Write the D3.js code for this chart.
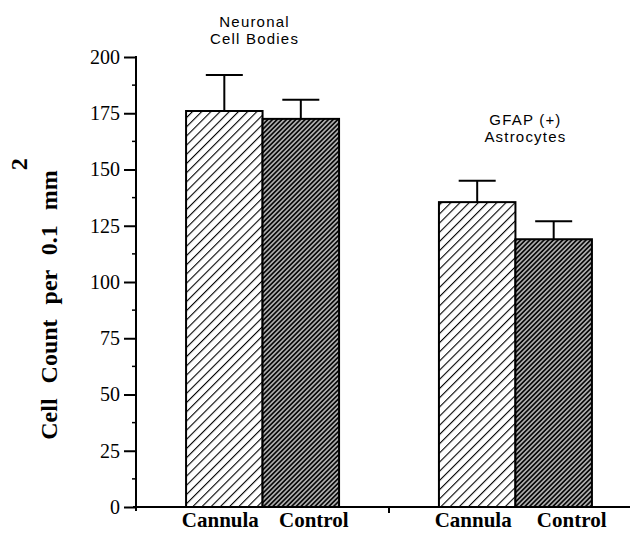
<!DOCTYPE html>
<html>
<head>
<meta charset="utf-8">
<script src="https://cdn.jsdelivr.net/npm/d3@7"></script>
<style>
  body { margin: 0; background: #fff; }
  svg { display: block; }
</style>
</head>
<body>
<div id="chart-area"></div>
<script>
// Datos
const groups = ["Neuronal Cell Bodies", "GFAP (+) Astrocytes"];
const groupLines = [["Neuronal", "Cell Bodies"], ["GFAP (+)", "Astrocytes"]];
const series = ["Cannula", "Control"];
const means = [[176, 172.5], [135.5, 119]];
const errors = [[16, 8.5], [9.5, 8]];
const yTicks = [0, 25, 50, 75, 100, 125, 150, 175, 200];

const W = 642, H = 535;

const svg = d3.select("#chart-area")
    .append("svg")
    .attr("width", W)
    .attr("height", H);

// Patrones de rayado
const defs = svg.append("defs");
const p1 = defs.append("pattern")
    .attr("id", "hatch-cannula")
    .attr("patternUnits", "userSpaceOnUse")
    .attr("width", 6.5).attr("height", 6.5)
    .attr("patternTransform", "rotate(45)");
p1.append("rect").attr("width", 6.5).attr("height", 6.5).attr("fill", "#fff");
p1.append("line").attr("x1", 0).attr("y1", 0).attr("x2", 0).attr("y2", 6.5)
    .attr("stroke", "#000").attr("stroke-width", 2.2);

const p2 = defs.append("pattern")
    .attr("id", "hatch-control")
    .attr("patternUnits", "userSpaceOnUse")
    .attr("width", 3.3).attr("height", 3.3)
    .attr("patternTransform", "rotate(45)");
p2.append("rect").attr("width", 3.3).attr("height", 3.3).attr("fill", "#0a0a0a");
p2.append("line").attr("x1", 1.65).attr("y1", 0).attr("x2", 1.65).attr("y2", 3.3)
    .attr("stroke", "#fff").attr("stroke-width", 1.1);

const fills = {Cannula: "url(#hatch-cannula)", Control: "url(#hatch-control)"};

// Escalas
const axisX = 136, axisEnd = 630;
const x0 = d3.scaleBand()
    .domain(groups)
    .range([axisX, 642])
    .paddingInner(0.395)
    .paddingOuter(0.198);

const x1 = d3.scaleBand()
    .domain(series)
    .range([0, x0.bandwidth()]);

const y = d3.scaleLinear()
    .domain([0, 200])
    .range([507, 57]);

// Barras
const rows = [];
groups.forEach((g, i) => series.forEach((s, j) => {
    rows.push({group: g, gi: i, series: s, value: means[i][j], err: errors[i][j]});
}));

const bars = svg.append("g");
bars.selectAll("rect")
    .data(rows)
    .enter()
    .append("rect")
    .attr("x", d => x0(d.group) + x1(d.series))
    .attr("y", d => y(d.value))
    .attr("width", x1.bandwidth())
    .attr("height", d => y(0) - y(d.value))
    .attr("fill", d => fills[d.series])
    .attr("stroke", "#000")
    .attr("stroke-width", 2);

// Barras de error
const capW = 37;
const eb = svg.append("g").attr("stroke", "#000").attr("stroke-width", 2);
rows.forEach(d => {
    const cx = x0(d.group) + x1(d.series) + x1.bandwidth() / 2;
    eb.append("line")
        .attr("x1", cx).attr("x2", cx)
        .attr("y1", y(d.value)).attr("y2", y(d.value + d.err));
    eb.append("line")
        .attr("x1", cx - capW / 2).attr("x2", cx + capW / 2)
        .attr("y1", y(d.value + d.err)).attr("y2", y(d.value + d.err));
});

// Eje Y
const yAxis = d3.axisLeft(y)
    .tickValues(yTicks)
    .tickSize(12)
    .tickPadding(4)
    .tickFormat(d3.format("d"));

const gy = svg.append("g")
    .attr("transform", `translate(${axisX},0)`)
    .call(yAxis);
gy.select(".domain").remove();
gy.selectAll(".tick line").attr("stroke-width", 2);
gy.selectAll(".tick text")
    .attr("font-family", "'Liberation Serif', 'Times New Roman', serif")
    .attr("font-size", 20)
    .attr("fill", "#000");

// Marcas menores
const minor = d3.range(12.5, 200, 25);
svg.append("g").selectAll("line")
    .data(minor)
    .enter()
    .append("line")
    .attr("x1", axisX - 4).attr("x2", axisX)
    .attr("y1", d => y(d)).attr("y2", d => y(d))
    .attr("stroke", "#000").attr("stroke-width", 1.5);

// Líneas de ejes
svg.append("line")
    .attr("x1", axisX).attr("x2", axisX)
    .attr("y1", y(200) - 1).attr("y2", y(0) + 4)
    .attr("stroke", "#000").attr("stroke-width", 2);
svg.append("line")
    .attr("x1", axisX - 3).attr("x2", axisEnd)
    .attr("y1", y(0)).attr("y2", y(0))
    .attr("stroke", "#000").attr("stroke-width", 2);

// Marca entre grupos
const midX = x0(groups[1]) - x0.step() * x0.paddingInner() / 2;
svg.append("line")
    .attr("x1", midX).attr("x2", midX)
    .attr("y1", y(0)).attr("y2", y(0) + 6)
    .attr("stroke", "#000").attr("stroke-width", 2);

// Etiquetas de categorías
const labelShift = {Cannula: -4, Control: 13};
svg.append("g").selectAll("text")
    .data(rows)
    .enter()
    .append("text")
    .attr("x", d => x0(d.group) + x1(d.series) + x1.bandwidth() / 2 + labelShift[d.series] + (d.gi === 1 && d.series === "Control" ? 5 : 0))
    .attr("y", 527)
    .attr("text-anchor", "middle")
    .attr("font-family", "'Liberation Serif', 'Times New Roman', serif")
    .attr("font-weight", "bold")
    .attr("font-size", 21)
    .text(d => d.series);

// Títulos de grupo
const groupShift = [-8, 10];
const groupBase = [26.5, 125];
groupLines.forEach((lines, i) => {
    const t = svg.append("text")
        .attr("text-anchor", "middle")
        .attr("font-family", "'Liberation Sans', Arial, sans-serif")
        .attr("font-size", 15)
        .attr("letter-spacing", 1.2);
    lines.forEach((ln, k) => {
        t.append("tspan")
            .attr("x", x0(groups[i]) + x0.bandwidth() / 2 + groupShift[i])
            .attr("y", groupBase[i] + k * 17)
            .text(ln);
    });
});

// Título del eje Y
const yt = svg.append("text")
    .attr("transform", "translate(57,299) rotate(-90)")
    .attr("text-anchor", "middle")
    .attr("font-family", "'Liberation Serif', 'Times New Roman', serif")
    .attr("font-weight", "bold")
    .attr("font-size", 24)
    .attr("word-spacing", 9);
yt.append("tspan").text("Cell Count per 0.1 mm");
yt.append("tspan").attr("dy", -30).text("2");
</script>
</body>
</html>
